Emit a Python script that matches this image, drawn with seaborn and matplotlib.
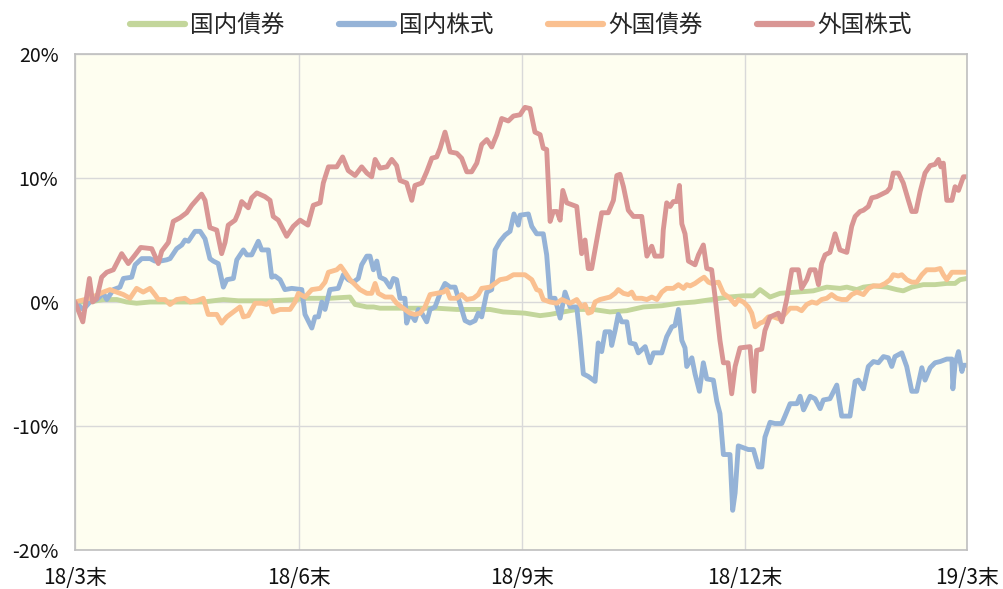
import pandas as pd
import seaborn as sns
import matplotlib.pyplot as plt
from matplotlib.ticker import FuncFormatter

# days since 2018/3 end, cumulative return (%)
jp_bond_days = [0, 6.1, 11.6, 17.1, 21.1, 25.2, 30.7, 38.9, 45.7, 52.5, 60.7, 66.8, 79.8, 90.8, 94.8,
                104.3, 112.5, 114.6, 119.4, 122.2, 124.8, 131.6, 148.0, 156.2, 169.8, 175.2, 184.1,
                190.3, 194.4, 205.3, 212.0, 218.9, 225.8, 232.6, 240.1, 246.9, 253.5, 260.5, 267.3,
                273.5, 277.6, 280.3, 284.4, 288.5, 295.4, 302.1, 307.6, 313.0, 315.8, 319.9, 322.6,
                326.6, 332.2, 336.2, 338.9, 342.4, 347.1, 351.9, 356.7, 360.1, 362.1, 365]
jp_bond = [0, 0.0, 0.2, 0.2, 0.0, -0.1, 0.0, 0.0, 0.0, 0.0, 0.2, 0.1, 0.1, 0.2, 0.3,
           0.3, 0.4, -0.2, -0.4, -0.4, -0.5, -0.5, -0.5, -0.6, -0.6, -0.8, -0.9,
           -1.1, -1.0, -0.6, -0.6, -0.8, -0.7, -0.4, -0.3, -0.1, 0.0, 0.2, 0.4,
           0.5, 0.5, 1.0, 0.4, 0.7, 0.8, 0.9, 1.2, 1.1, 1.2, 1.0, 1.2,
           1.3, 1.2, 1.0, 0.9, 1.2, 1.4, 1.4, 1.5, 1.5, 1.8, 1.9]

jp_stock_days = [0, 3.4, 6.1, 8.9, 11.6, 13.0, 15.7, 18.4, 19.8, 23.2, 24.6, 27.3, 30.7, 32.7, 34.8,
                 37.5, 38.9, 41.6, 43.7, 45.0, 46.4, 49.1, 51.2, 53.2, 55.2, 56.6, 58.6, 60.7, 62.1,
                 64.8, 66.2, 68.9, 70.3, 72.3, 75.0, 76.4, 79.1, 80.5, 81.8, 83.9, 85.9, 88.7, 92.8,
                 94.1, 96.9, 98.2, 99.6, 101.0, 102.3, 104.3, 107.7, 109.8, 111.8, 113.9, 115.9, 117.3,
                 119.4, 120.7, 122.1, 123.5, 124.8, 126.9, 128.9, 130.3, 131.6, 133.0, 135.0, 135.7,
                 137.1, 139.1, 140.5, 141.9, 143.9, 145.3, 147.3, 149.4, 151.4, 153.5, 155.5, 157.5,
                 159.6, 161.6, 163.7, 165.0, 166.4, 168.5, 170.5, 171.9, 173.9, 176.0, 178.0, 179.6,
                 181.4, 182.1, 185.5, 186.9, 188.9, 191.6, 193.0, 194.4, 196.4, 198.5, 200.5, 202.6,
                 205.3, 206.6, 208.0, 210.0, 212.8, 214.1, 215.5, 216.9, 218.9, 219.6, 221.0, 222.3,
                 223.7, 225.8, 227.1, 229.2, 230.5, 233.3, 235.3, 236.7, 240.1, 242.1, 244.2, 245.5,
                 246.9, 248.3, 249.6, 250.3, 252.4, 253.7, 255.5, 257.1, 258.5, 261.2, 262.6, 263.9,
                 265.3, 268.0, 269.1, 270.1, 271.4, 275.5, 277.6, 279.6, 281.0, 282.3, 284.4, 286.4,
                 289.2, 290.5, 292.6, 295.4, 296.7, 298.1, 300.8, 302.8, 304.9, 306.2, 308.9, 311.7,
                 313.7, 317.1, 319.2, 320.5, 322.6, 324.6, 326.7, 328.7, 330.8, 332.8, 334.2, 335.5,
                 338.3, 340.3, 342.4, 344.4, 346.5, 347.8, 349.9, 351.9, 354.0, 356.7, 358.8, 359.2,
                 360.1, 361.5, 362.9, 363.5, 365]
jp_stock = [0, -0.6, 0.0, 0.2, 0.7, 0.2, 1.0, 1.2, 1.9, 2.0, 3.0, 3.5, 3.5, 3.3, 3.3,
            3.4, 3.5, 4.3, 4.6, 5.0, 4.9, 5.7, 5.7, 5.1, 3.5, 3.3, 3.1, 1.2, 1.8,
            1.9, 3.4, 4.2, 3.8, 3.8, 4.9, 4.2, 4.2, 2.0, 2.1, 1.8, 1.0, 1.1, 1.0,
            -1.0, -2.1, -1.2, -1.2, 0.0, -0.6, 1.0, 1.1, 2.2, 1.8, 1.6, 1.9, 3.0,
            3.7, 3.7, 2.6, 3.3, 2.0, 1.8, 1.2, 1.9, 1.8, 0.3, 0.3, -1.7,
            -0.9, -1.5, -0.6, -0.9, -1.6, -0.6, -0.4, 0.7, 1.5, 1.2, 1.2, -0.1,
            -1.5, -1.7, -1.5, -0.9, -1.2, 0.8, 1.0, 4.2, 4.9, 5.4, 5.7, 7.1,
            6.2, 7.0, 7.1, 6.1, 5.5, 5.5, 3.8, 0.3, 0.3, -1.3, 0.8, -0.4,
            -0.4, -2.8, -5.8, -6.0, -6.4, -3.3, -4.0, -2.4, -2.4, -3.5, -2.3, -1.0,
            -1.6, -1.6, -3.3, -3.4, -4.1, -3.6, -4.9, -4.1, -4.1, -2.8, -2.0, -1.9,
            -0.6, -3.1, -3.7, -5.2, -4.5, -5.8, -7.2, -4.9, -6.2, -6.3, -8.0, -9.0,
            -12.3, -12.3, -16.8, -15.4, -11.6, -11.9, -11.9, -13.3, -13.3, -10.9, -9.7, -9.8,
            -9.8, -9.2, -8.2, -8.2, -7.6, -8.7, -7.6, -7.8, -8.6, -7.9, -7.8, -6.7,
            -9.2, -9.2, -6.4, -6.3, -7.0, -5.2, -4.8, -4.9, -4.4, -4.5, -5.2, -4.4,
            -4.1, -5.2, -7.2, -7.2, -5.3, -6.3, -5.3, -4.9, -4.8, -4.6, -4.6, -7.0,
            -5.0, -4.0, -5.6, -5.1, -5.1]

fx_bond_days = [0, 6.1, 11.6, 14.3, 17.1, 19.8, 22.5, 25.2, 27.9, 30.7, 32.7, 34.1, 36.8, 38.9, 41.6,
                45.0, 47.1, 49.8, 52.5, 54.5, 58.0, 60.0, 62.1, 64.8, 67.5, 68.9, 70.9, 73.7, 76.4,
                78.4, 79.8, 81.1, 83.9, 88.0, 90.0, 91.4, 94.1, 96.9, 100.3, 102.3, 103.7, 107.1,
                108.7, 110.5, 112.5, 114.6, 116.6, 119.4, 121.4, 122.8, 124.1, 126.9, 129.6, 131.6,
                134.3, 137.1, 139.1, 141.2, 143.2, 145.3, 148.0, 150.7, 152.1, 153.5, 156.2, 158.2,
                160.3, 163.0, 165.0, 166.4, 169.8, 171.9, 173.9, 176.7, 179.4, 182.1, 184.1, 186.9,
                188.9, 190.3, 191.6, 194.4, 197.1, 199.2, 202.6, 205.3, 207.3, 208.7, 210.0, 211.4,
                212.8, 214.8, 216.9, 218.9, 221.0, 222.3, 224.4, 226.4, 227.8, 229.2, 231.9, 234.0,
                236.0, 238.1, 240.1, 242.1, 244.8, 246.9, 249.0, 250.3, 251.7, 253.7, 255.8, 257.4,
                259.2, 260.5, 263.3, 265.3, 268.0, 270.1, 271.4, 273.5, 275.5, 276.9, 278.3, 280.3,
                281.7, 283.7, 285.8, 288.5, 291.2, 292.6, 295.4, 297.3, 299.4, 301.5, 303.5, 305.5,
                307.6, 309.6, 311.7, 313.7, 315.8, 317.8, 319.9, 322.6, 324.6, 326.7, 329.4, 331.5,
                333.5, 334.8, 336.9, 338.3, 340.3, 342.4, 344.4, 346.5, 348.5, 351.9, 354.0, 355.3,
                356.7, 358.8, 365]
fx_bond = [0, 0.3, 0.8, 1.0, 0.8, 0.6, 0.3, 1.1, 0.8, 1.1, 0.6, 0.2, 0.2, -0.2, 0.2,
           0.3, 0.0, 0.1, 0.3, -1.0, -1.0, -1.7, -1.2, -0.8, -0.4, -1.2, -1.1, -0.1, -0.1,
           -0.2, 0.0, -0.8, -0.6, -0.6, 0.0, 0.7, 0.4, 1.0, 1.1, 1.6, 2.4, 2.6,
           2.9, 2.4, 1.8, 1.4, 1.0, 0.7, 0.7, 1.5, 0.7, 0.4, 0.4, -0.1,
           -0.5, -0.9, -1.0, -0.9, -0.4, 0.6, 0.7, 0.8, 1.0, 0.3, 0.3, 0.6,
           0.2, 0.3, 0.6, 1.1, 1.2, 1.5, 1.8, 1.9, 2.2, 2.2, 2.2, 1.8,
           1.0, 0.9, 0.2, 0.0, -0.1, 0.2, -0.1, 0.2, -0.4, -0.2, -0.9, -0.8,
           0.0, 0.2, 0.3, 0.4, 0.7, 1.0, 0.7, 0.6, 0.8, 0.3, 0.3, 0.2,
           0.4, 0.2, 0.8, 1.1, 1.1, 1.4, 1.1, 1.4, 1.3, 1.5, 1.8, 2.0,
           1.6, 1.5, 1.6, 0.7, 0.3, -0.2, 0.2, 0.0, -0.4, -0.9, -2.0, -1.7,
           -1.6, -1.2, -1.2, -1.4, -0.8, -0.5, -0.5, -0.7, -0.2, 0.0, -0.1, 0.2,
           0.3, 0.6, 0.3, 0.2, 0.2, 0.6, 0.8, 0.6, 1.1, 1.3, 1.3, 1.5,
           1.8, 2.2, 2.1, 2.2, 1.8, 1.6, 1.6, 2.2, 2.6, 2.6, 2.7, 2.2,
           1.8, 2.4, 2.4]

fx_stock_days = [0, 3.2, 5.9, 7.2, 8.9, 10.9, 13.0, 15.7, 19.1, 21.8, 24.6, 26.9, 31.4, 34.1, 35.5,
                 38.2, 40.2, 43.0, 45.7, 47.8, 51.8, 53.2, 55.2, 58.0, 60.0, 61.4, 62.7, 65.5, 66.8,
                 68.2, 70.9, 72.3, 74.4, 77.7, 79.8, 81.1, 83.2, 86.6, 89.3, 92.1, 95.3, 97.5, 100.3,
                 101.6, 103.7, 107.1, 109.5, 111.8, 114.6, 117.3, 119.4, 121.4, 122.8, 124.8, 127.6,
                 129.6, 131.6, 133.0, 135.7, 137.8, 139.1, 141.9, 143.9, 146.0, 148.0, 149.4, 151.4,
                 153.5, 156.2, 158.2, 160.3, 162.3, 164.4, 166.4, 168.5, 170.5, 172.6, 174.6, 177.3,
                 179.4, 182.1, 184.1, 186.2, 188.2, 190.3, 191.6, 193.0, 194.4, 195.7, 197.2, 198.5,
                 199.6, 201.2, 205.3, 207.3, 208.7, 210.0, 211.4, 213.5, 215.5, 218.2, 220.3, 221.7,
                 223.0, 224.4, 226.4, 228.5, 231.9, 234.0, 236.0, 237.3, 240.1, 240.7, 242.1, 243.5,
                 244.8, 246.2, 247.3, 248.3, 249.6, 251.0, 253.7, 255.1, 257.1, 258.5, 260.5, 261.9,
                 263.9, 265.3, 267.2, 268.7, 270.1, 272.1, 276.2, 277.8, 278.9, 281.0, 282.3, 284.4,
                 287.8, 289.2, 291.2, 293.3, 296.0, 297.3, 299.4, 300.8, 302.8, 304.2, 305.5, 306.9,
                 308.9, 311.0, 313.0, 315.8, 317.8, 319.2, 321.2, 322.6, 324.6, 326.0, 328.1, 330.1,
                 332.2, 333.5, 334.8, 336.9, 338.9, 341.0, 342.4, 344.1, 345.8, 347.8, 349.9, 351.9,
                 353.3, 354.3, 355.3, 356.7, 358.8, 360.1, 361.5, 363.5, 365]
fx_stock = [0, -1.6, 1.9, 0.0, 0.3, 2.0, 2.4, 2.6, 3.9, 3.1, 3.8, 4.4, 4.3, 3.1, 4.1,
            4.8, 6.5, 6.8, 7.2, 7.8, 8.7, 8.2, 6.0, 5.8, 3.9, 4.8, 6.2, 6.6, 7.2,
            8.1, 7.6, 8.4, 8.8, 8.5, 8.2, 6.9, 6.6, 5.3, 6.1, 6.6, 6.2, 7.8, 8.0,
            9.6, 10.9, 10.9, 11.7, 10.6, 10.2, 10.9, 10.4, 10.1, 11.5, 10.8, 10.9,
            11.5, 11.0, 9.8, 9.6, 8.2, 9.4, 9.6, 10.5, 11.6, 11.7, 12.4, 13.7,
            12.1, 12.0, 11.6, 10.5, 10.5, 11.2, 12.7, 13.1, 12.5, 13.5, 14.8, 14.6,
            15.0, 15.1, 15.7, 15.6, 13.7, 13.5, 12.4, 12.3, 6.5, 7.3, 7.3, 6.6,
            9.0, 8.0, 7.7, 3.9, 5.0, 2.7, 2.7, 5.0, 7.2, 7.2, 8.2, 10.2,
            10.3, 9.3, 7.4, 6.9, 6.9, 3.7, 4.5, 3.7, 3.7, 5.8, 8.0, 7.7,
            8.1, 8.1, 9.4, 6.3, 5.5, 3.3, 3.0, 3.8, 4.6, 2.7, 2.6, 0.4,
            -3.1, -4.9, -4.9, -7.4, -5.2, -3.7, -3.6, -7.2, -3.9, -3.8, -2.3, -1.2,
            -0.9, -1.6, 0.2, 2.6, 2.6, 1.1, 1.8, 2.6, 2.6, 1.4, 3.1, 3.8,
            4.0, 5.5, 4.2, 4.0, 6.1, 6.9, 7.3, 7.4, 7.7, 8.4, 8.5, 8.7,
            8.9, 9.2, 10.4, 10.4, 9.6, 8.2, 7.3, 7.3, 8.9, 10.4, 11.0, 11.1,
            11.5, 10.9, 11.2, 8.2, 8.2, 9.3, 9.0, 10.1, 10.1]

series_names = ['国内債券', '国内株式', '外国債券', '外国株式']
series_colors = ['#C3D69B', '#95B3D7', '#FAC090', '#D99694']
tick_days = [0, 91.5, 183, 274, 365]
tick_labels = ['18/3末', '18/6末', '18/9末', '18/12末', '19/3末']

frames = []
for name, days, vals in zip(series_names,
                            [jp_bond_days, jp_stock_days, fx_bond_days, fx_stock_days],
                            [jp_bond, jp_stock, fx_bond, fx_stock]):
    frames.append(pd.DataFrame({'day': days, 'value': vals, 'series': name}))
df = pd.concat(frames, ignore_index=True)

sns.set_theme(style='white')
plt.rcParams['font.family'] = ['Noto Sans CJK JP', 'DejaVu Sans']

fig = plt.figure(figsize=(10.04, 5.89), dpi=100)
ax = fig.add_axes([0.0747, 0.0662, 0.8885, 0.8421])
ax.set_facecolor('#FEFEF0')

sns.lineplot(data=df, x='day', y='value', hue='series', hue_order=series_names,
             palette=series_colors, estimator=None, sort=True, linewidth=3.5, ax=ax)

ax.set_xlim(0, 365)
ax.set_ylim(-20, 20)
ax.set_yticks([-20, -10, 0, 10, 20])
ax.yaxis.set_major_formatter(FuncFormatter(lambda v, p: f'{v:.0f}%'))
ax.set_xticks(tick_days)
ax.set_xticklabels(tick_labels)
ax.tick_params(axis='both', length=0, colors='#111111')
ax.tick_params(axis='x', pad=12, labelsize=15)
ax.tick_params(axis='y', pad=12, labelsize=14)
ax.grid(True, color='#D9D9D9', linewidth=1)
ax.set_axisbelow(True)
for s in ax.spines.values():
    s.set_color('#BFBFBF')
    s.set_linewidth(1.2)
ax.set_xlabel('')
ax.set_ylabel('')

# legend centred over the plot area
handles, labels = ax.get_legend_handles_labels()
ax.get_legend().remove()
leg = fig.legend(handles, labels, loc='upper center', bbox_to_anchor=(0.519, 1.012), ncol=4,
                 frameon=False, fontsize=17, handlelength=2.3, columnspacing=2.3,
                 handletextpad=0.25)
for line in leg.get_lines():
    line.set_linewidth(4.5)

fig.savefig('out.png', dpi=100)
